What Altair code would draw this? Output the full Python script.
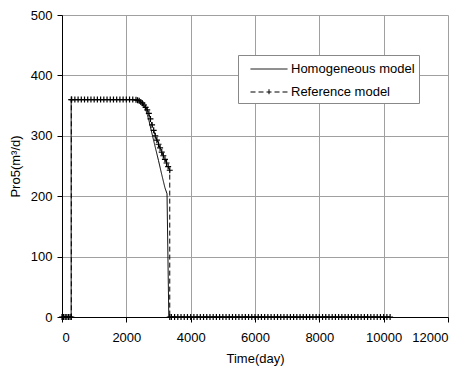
import altair as alt
import pandas as pd

series = ["Homogeneous model", "Reference model"]

hom_time = [0, 285, 285, 2200, 2300, 2400, 2500, 2600, 2700, 2800, 2900, 3000,
            3100, 3200, 3265, 3320, 10200]
hom_rate = [0, 0, 360, 360, 359, 358, 354, 344, 326, 303, 281, 259,
            236, 214, 204, 0, 0]

ref_time = [0, 50, 100, 150, 200, 250, 290,
            290, 300, 400, 500, 600, 700, 800, 900, 1000, 1100, 1200, 1300,
            1400, 1500, 1600, 1700, 1800, 1900, 2000, 2100, 2200,
            2300, 2350, 2400, 2450, 2500, 2550, 2600, 2650, 2700, 2750, 2800,
            2850, 2900, 2950, 3000, 3050, 3100, 3150, 3200, 3250, 3300, 3350,
            3350, 3400, 3500, 3600, 3700, 3800, 3900, 4000, 4100, 4200, 4300,
            4400, 4500, 4600, 4700, 4800, 4900, 5000, 5100, 5200, 5300, 5400,
            5500, 5600, 5700, 5800, 5900, 6000, 6100, 6200, 6300, 6400, 6500,
            6600, 6700, 6800, 6900, 7000, 7100, 7200, 7300, 7400, 7500, 7600,
            7700, 7800, 7900, 8000, 8100, 8200, 8300, 8400, 8500, 8600, 8700,
            8800, 8900, 9000, 9100, 9200, 9300, 9400, 9500, 9600, 9700, 9800,
            9900, 10000, 10100, 10200]
ref_rate = [0, 0, 0, 0, 0, 0, 0,
            360, 360, 360, 360, 360, 360, 360, 360, 360, 360, 360, 360,
            360, 360, 360, 360, 360, 360, 360, 360, 360,
            359.5, 359, 358, 356, 354, 351, 347, 343, 337, 328, 318,
            309, 300, 293, 286, 280, 273, 267, 261, 255, 249, 243,
            0, 0, 0, 0, 0, 0, 0, 0, 0, 0, 0,
            0, 0, 0, 0, 0, 0, 0, 0, 0, 0, 0,
            0, 0, 0, 0, 0, 0, 0, 0, 0, 0, 0,
            0, 0, 0, 0, 0, 0, 0, 0, 0, 0, 0,
            0, 0, 0, 0, 0, 0, 0, 0, 0, 0, 0,
            0, 0, 0, 0, 0, 0, 0, 0, 0, 0, 0,
            0, 0, 0, 0]

x_ticks = [0, 2000, 4000, 6000, 8000, 10000, 12000]
y_ticks = [0, 100, 200, 300, 400, 500]

hom = pd.DataFrame({"t": hom_time, "q": hom_rate, "series": series[0],
                    "i": list(range(len(hom_time)))})
ref = pd.DataFrame({"t": ref_time, "q": ref_rate, "series": series[1],
                    "i": list(range(len(ref_time)))})
df = pd.concat([hom, ref], ignore_index=True)

FONT = "Liberation Sans"

x = alt.X("t:Q", scale=alt.Scale(domain=[0, 12000], nice=False),
          axis=alt.Axis(values=x_ticks, title="Time(day)", format="d"))
y = alt.Y("q:Q", scale=alt.Scale(domain=[0, 500], nice=False),
          axis=alt.Axis(values=y_ticks, title="Pro5(m³/d)", format="d"))

legend = alt.Legend(title=None, orient="none", legendX=176, legendY=40,
                    fillColor="white", strokeColor="#888888", padding=4,
                    symbolSize=342, symbolStrokeWidth=1, symbolOffset=17,
                    symbolStrokeColor="black", symbolFillColor="transparent",
                    labelFont=FONT, labelFontSize=13, labelColor="black",
                    rowPadding=6, labelOffset=12)

lines = alt.Chart(df).mark_line(color="black", strokeWidth=1).encode(
    x=x, y=y,
    strokeDash=alt.StrokeDash("series:N",
                              scale=alt.Scale(domain=series, range=[[1, 0], [5, 3]]),
                              legend=legend),
    order="i:Q",
)

cross = "M-1,0L1,0M0,-1L0,1"
points = alt.Chart(ref).mark_point(shape=cross, size=36, filled=False,
                                   color="black", strokeWidth=1.2, opacity=1).encode(
    x=x, y=y)

legend_shapes = alt.Chart(df).mark_point(opacity=0, filled=False, color="black").encode(
    x=x, y=y,
    shape=alt.Shape("series:N",
                    scale=alt.Scale(domain=series,
                                    range=["M-2,0L2,0", "M-2,0L2,0M0,-0.3L0,0.3"]),
                    legend=legend),
)

chart = alt.layer(lines, points, legend_shapes).properties(
    width=386, height=302,
    autosize=alt.AutoSizeParams(type="none"),
    padding={"left": 54, "top": 7, "right": 10, "bottom": 50},
).configure_view(stroke=None).configure_axis(
    labelFont=FONT, labelFontSize=13, labelColor="black",
    titleFont=FONT, titleFontSize=13, titleFontWeight="normal", titleColor="black",
    domainColor="black", domainWidth=1, tickColor="black", tickSize=5,
    gridColor="#a0a0a0", gridWidth=1, gridOpacity=1,
).configure_axisX(labelPadding=9, titlePadding=8).configure_axisY(
    labelPadding=5, titlePadding=8)

chart.save("out.html", embed_options={"renderer": "svg", "actions": False})
